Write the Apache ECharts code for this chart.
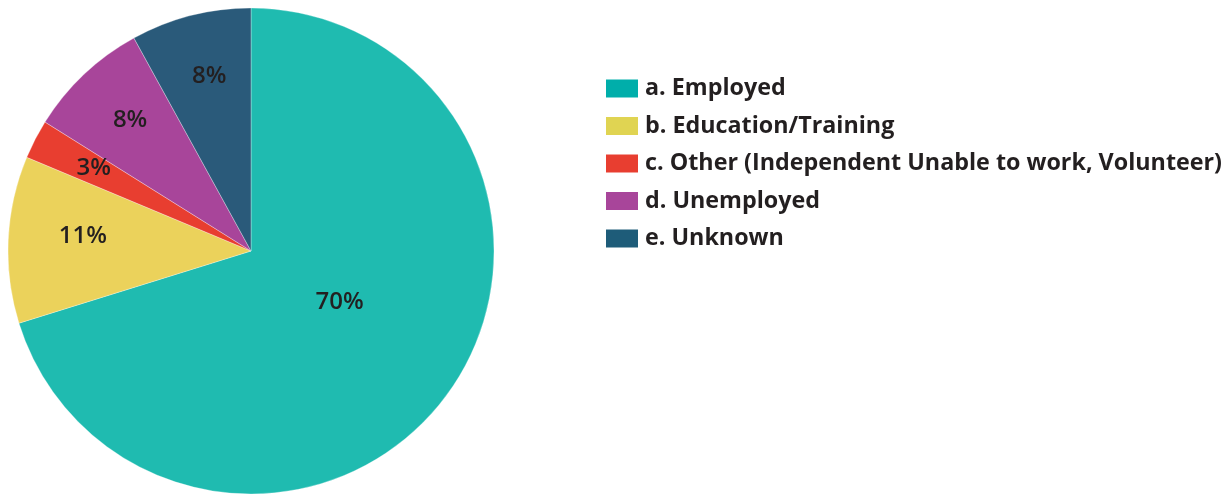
<!DOCTYPE html>
<html>
<head>
<meta charset="utf-8">
<script src="https://cdn.jsdelivr.net/npm/echarts@6/dist/echarts.min.js"></script>
<style>html,body{margin:0;padding:0;background:#fff}#c{width:1225px;height:496px}</style>
</head>
<body>
<div id="c"></div>
<script>
const categories = ['a. Employed', 'b. Education/Training', 'c. Other (Independent Unable to work, Volunteer)', 'd. Unemployed', 'e. Unknown'];
const values = [70.2, 11.1, 2.6, 8.1, 8.0];
const colors = ['#1fbbb0', '#ebd25b', '#e83e30', '#a8459a', '#2a5a7a'];
const legendColors = ['#00aeaa', '#e0d452', '#e83e30', '#a8459a', '#1e5c79'];

const chart = echarts.init(document.getElementById('c'));
const R = 243;
const center = [251, 251];
const fmt = p => Math.round(p.value) + '%';
const labelStyle = {fontFamily: 'Open Sans', fontWeight: 600, fontSize: 24, color: '#231f20', formatter: fmt};

const baseData = categories.map((n, i) => ({name: n, value: values[i], itemStyle: {color: colors[i]}}));
const transparentData = (showIdx) => categories.map((n, i) => ({
  name: n, value: values[i], itemStyle: {color: 'rgba(0,0,0,0)'},
  label: {show: showIdx(i)}
}));

chart.setOption({
  animation: false,
  legend: {
    orient: 'vertical',
    left: 601, top: 72,
    itemWidth: 32, itemHeight: 18, itemGap: 14.5,
    icon: 'rect',
    itemStyle: {borderWidth: 0},
    data: categories.map((n, i) => ({name: n, itemStyle: {color: legendColors[i], borderWidth: 0}})),
    textStyle: {fontFamily: 'Open Sans', fontWeight: 'bold', fontSize: 23.3, color: '#231f20', padding: [0, 0, 0, 2]},
    selectedMode: false
  },
  series: [
    {
      type: 'pie', center: center, radius: [0, R], startAngle: 90, clockwise: true,
      label: {show: false}, labelLine: {show: false}, silent: true,
      itemStyle: {borderColor: 'rgba(255,255,255,0.6)', borderWidth: 0.5},
      data: baseData
    },
    {
      type: 'pie', center: center, radius: [0, R * 0.82], startAngle: 90, clockwise: true,
      silent: true, labelLine: {show: false}, legendHoverLink: false,
      label: Object.assign({position: 'inside'}, labelStyle),
      labelLayout: {dx: 6, dy: -10},
      data: transparentData(i => i === 0)
    },
    {
      type: 'pie', center: center, radius: [R * 0.46, R], startAngle: 90, clockwise: true,
      silent: true, labelLine: {show: false}, legendHoverLink: false,
      label: Object.assign({position: 'inside'}, labelStyle),
      labelLayout: p => p.dataIndex === 1 ? {dx: 12, dy: -6} : {dx: 3, dy: 0},
      data: transparentData(i => i !== 0)
    }
  ]
});
</script>
</body>
</html>
